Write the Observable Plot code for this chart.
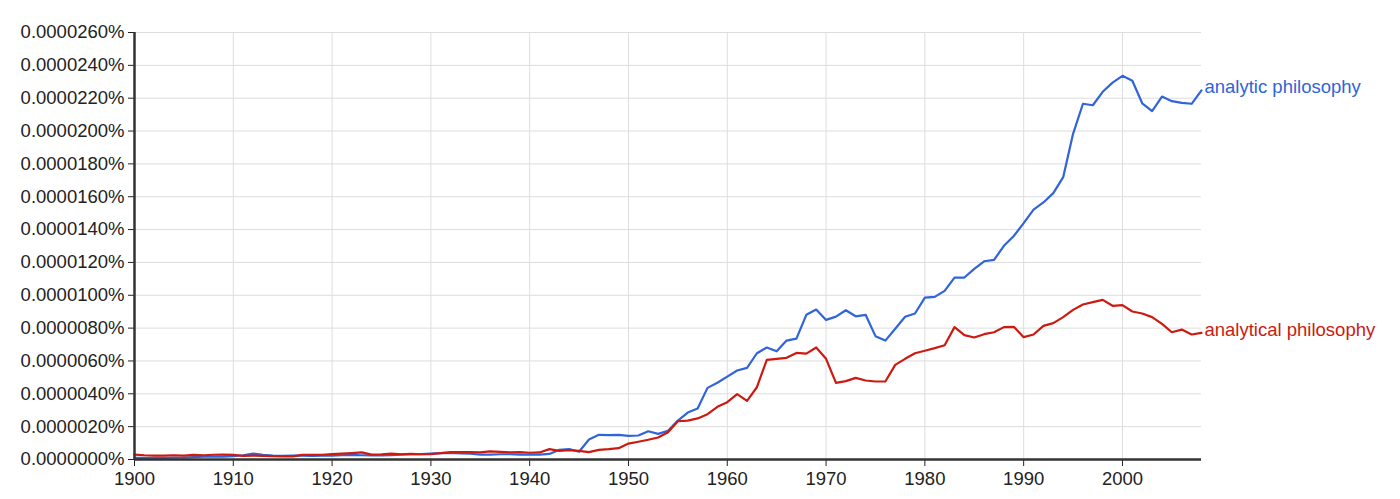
<!DOCTYPE html>
<html>
<head>
<meta charset="utf-8">
<script src="https://cdn.jsdelivr.net/npm/d3@7"></script>
<script src="https://cdn.jsdelivr.net/npm/@observablehq/plot@0.6"></script>
<style>
  html, body { margin: 0; padding: 0; background: #fff; }
  #chart { width: 1400px; height: 499px; }
  svg { font-family: "Liberation Sans", Arial, Helvetica, sans-serif; }
</style>
</head>
<body>
<div id="chart"></div>
<script>
// Values in units of 0.0000001 %
const years = d3.range(1900, 2009);
const analytic = [
  1.0, 1.0, 1.0, 1.0, 1.1, 1.2, 1.5, 1.7, 1.8, 1.8,
  2.0, 2.6, 3.6, 2.8, 2.4, 2.2, 2.3, 2.4, 2.2, 2.3,
  2.4, 2.6, 2.8, 2.6, 2.5, 2.5, 2.7, 3.0, 3.2, 3.3,
  3.6, 3.9, 4.0, 3.7, 3.5, 3.0, 3.0, 3.2, 3.2, 3.0,
  3.0, 3.0, 3.4, 5.9, 6.3, 4.7, 12.2, 15.0, 14.8, 15.0,
  14.4, 14.6, 17.2, 15.6, 17.5, 23.7, 28.6, 31.0, 43.6, 46.7,
  50.5, 54.2, 55.8, 64.7, 68.2, 65.9, 72.4, 73.6, 88.1, 91.3,
  85.0, 87.0, 90.9, 87.2, 88.1, 75.1, 72.4, 79.6, 86.9, 88.9,
  98.6, 99.0, 102.7, 110.8, 110.8, 116.1, 120.7, 121.5, 130.1, 136.1,
  143.9, 152.2, 156.5, 162.2, 171.9, 198.3, 216.6, 215.7, 223.9, 229.5,
  233.6, 230.6, 216.9, 212.1, 221.0, 218.2, 217.2, 216.6, 224.8
];
const analytical = [
  3.0, 2.6, 2.4, 2.4, 2.6, 2.4, 2.8, 2.6, 2.9, 3.0,
  2.8, 2.2, 2.4, 2.2, 2.0, 1.9, 1.9, 2.8, 2.8, 2.9,
  3.3, 3.6, 3.9, 4.3, 3.0, 3.2, 3.6, 3.2, 3.4, 3.2,
  3.3, 3.9, 4.5, 4.5, 4.5, 4.3, 5.0, 4.6, 4.3, 4.5,
  4.1, 4.3, 6.3, 5.3, 5.7, 5.3, 4.5, 5.9, 6.3, 6.9,
  9.7, 10.8, 12.0, 13.4, 16.6, 23.3, 23.7, 25.0, 27.6, 32.1,
  34.9, 39.8, 35.7, 44.0, 60.7, 61.3, 61.9, 64.9, 64.5, 68.2,
  61.3, 46.7, 47.7, 49.7, 48.1, 47.5, 47.5, 57.6, 61.3, 64.7,
  66.2, 67.8, 69.6, 80.6, 75.7, 74.3, 76.3, 77.5, 80.6, 80.8,
  74.5, 76.1, 81.4, 83.0, 86.7, 91.1, 94.4, 95.8, 97.2, 93.6,
  94.0, 90.1, 88.9, 86.7, 82.6, 77.5, 79.1, 76.1, 77.1
];
const seriesNames = ["analytic philosophy", "analytical philosophy"];
const seriesColors = ["#2f64da", "#cc1a10"];
const yTicks = d3.range(0, 261, 20);
const xTicks = d3.range(1900, 2001, 10);

const rows = [];
years.forEach((yr, i) => {
  rows.push({year: yr, value: analytic[i], series: seriesNames[0]});
  rows.push({year: yr, value: analytical[i], series: seriesNames[1]});
});
const lastRows = seriesNames.map((s, k) => ({
  year: years[years.length - 1],
  value: (k === 0 ? analytic : analytical)[years.length - 1],
  series: s
}));

const chart = Plot.plot({
  width: 1400,
  height: 499,
  marginLeft: 134,
  marginRight: 199,
  marginTop: 32,
  marginBottom: 40,
  style: {fontFamily: '"Liberation Sans", Arial, sans-serif', fontSize: "18.5px", color: "#222", background: "#fff"},
  x: {domain: [1900, 2008], ticks: xTicks},
  y: {domain: [0, 260], ticks: yTicks},
  color: {domain: seriesNames, range: seriesColors},
  marks: [
    Plot.ruleY(yTicks.filter(d => d > 0), {stroke: "#dddddd", strokeWidth: 1}),
    Plot.ruleX(xTicks.filter(d => d > 1900), {stroke: "#dddddd", strokeWidth: 1}),
    Plot.line(rows, {x: "year", y: "value", stroke: "series", strokeWidth: 2.2, strokeLinejoin: "round"}),
    Plot.text(lastRows, {x: "year", y: "value", text: "series", fill: "series", textAnchor: "start", dx: 3, dy: -3, fontSize: 18.5}),
    Plot.axisY({ticks: yTicks, tickSize: 6, tickPadding: 4, tickFormat: d => (d * 1e-7).toFixed(7) + "%", label: null, fontSize: 18.5}),
    Plot.axisX({ticks: xTicks, tickSize: 7, tickPadding: 5, tickFormat: d => String(d), label: null, fontSize: 18.5}),
    Plot.ruleX([1900], {stroke: "#333", strokeWidth: 2.5}),
    Plot.ruleY([0], {stroke: "#333", strokeWidth: 2.5})
  ]
});
document.getElementById("chart").appendChild(chart);
</script>
</body>
</html>
